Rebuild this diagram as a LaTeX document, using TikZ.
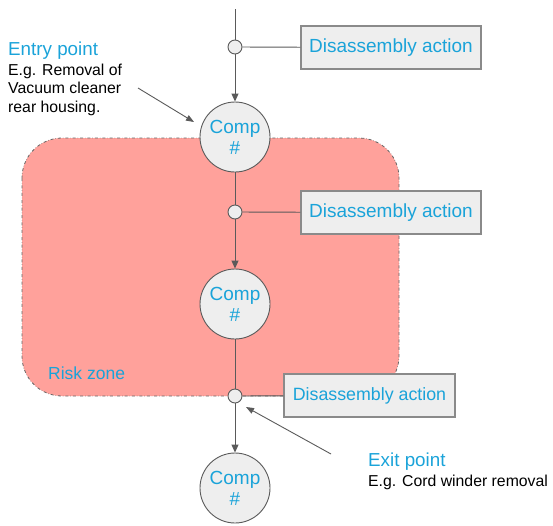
\documentclass[tikz,border=0pt]{standalone}
\usepackage{fontspec}
\setmainfont{Liberation Sans}
\usetikzlibrary{arrows.meta}
\definecolor{tblue}{HTML}{1AA3D9}
\definecolor{lgray}{HTML}{EEEEEE}
\definecolor{bgray}{HTML}{8A8A8A}
\definecolor{lline}{HTML}{5A5A5A}
\definecolor{risk}{HTML}{FFA19B}
\tikzset{
  comp/.style={circle, draw=lline, fill=lgray, line width=0.9pt, minimum size=70pt, inner sep=0pt, align=center, text=tblue, font=\fontsize{19}{21}\selectfont},
  junc/.style={circle, draw=lline, fill=lgray, line width=0.9pt, minimum size=14pt, inner sep=0pt},
  action/.style={draw=bgray, fill=lgray, line width=1.2pt, minimum width=180pt, minimum height=43pt, inner sep=0pt, text=tblue, font=\fontsize{19}{21}\selectfont},
  flow/.style={draw=lline, line width=0.9pt},
  flowarr/.style={flow, -{Triangle[length=8pt,width=7pt]}},
  note/.style={draw=lline, line width=0.9pt, -{Triangle[length=8pt,width=6pt]}},
  bluelbl/.style={anchor=base west, inner sep=0pt, text=tblue, font=\fontsize{18.8}{20}\selectfont},
  blacklbl/.style={anchor=base west, inner sep=0pt, text=black, align=left, font=\fontsize{15.8}{18.5}\selectfont},
}
\begin{document}
\begin{tikzpicture}[x=1pt,y=-1pt]
\useasboundingbox (0,0) rectangle (553,525);
% risk zone
\draw[fill=risk, draw=gray!80!black, dash dot, line width=0.8pt, rounded corners=40pt] (22,138) rectangle (399,396);
\node[anchor=base west, inner sep=0pt, text=tblue, font=\fontsize{17.5}{20}\selectfont] (rz) at (48,379) {Risk zone};
% nodes
\coordinate (top) at (235,9);
\node[junc] (j1) at (235,47) {};
\node[action] (a1) at (391,47.5) {Disassembly action};
\node[comp] (c1) at (235,137) {Comp\\\#};
\node[junc] (j2) at (235,212) {};
\node[action] (a2) at (391,212.5) {Disassembly action};
\node[comp] (c2) at (235,304) {Comp\\\#};
\node[junc] (j3) at (235,396) {};
\node[action, minimum width=171pt, font=\fontsize{17.8}{20}\selectfont] (a3) at (369.5,395.5) {Disassembly action};
\node[comp] (c3) at (235,488) {Comp\\\#};
% connectors
\draw[flow] (top) -- (j1);
\draw[flow] (j1) -- (a1);
\draw[flowarr] (j1) -- (c1);
\draw[flow] (c1) -- (j2);
\draw[flow] (j2) -- (a2);
\draw[flowarr] (j2) -- (c2);
\draw[flow] (c2) -- (j3);
\draw[flow] (j3) -- (a3);
\draw[flowarr] (j3) -- (c3);
% entry note
\node[bluelbl] (entry) at (8,55) {Entry point};
\node[blacklbl] (entrytxt) at (8,112) {E.g. Removal of\\Vacuum cleaner\\rear housing.};
\coordinate (en1) at (138,88);
\coordinate (en2) at (194,122);
\draw[note] (en1) -- (en2);
% exit note
\node[bluelbl] (exit) at (368,466) {Exit point};
\node[blacklbl] (exittxt) at (368,486) {E.g. Cord winder removal};
\coordinate (ex1) at (331,454);
\coordinate (ex2) at (246,407);
\draw[note] (ex1) -- (ex2);
\end{tikzpicture}
\end{document}
